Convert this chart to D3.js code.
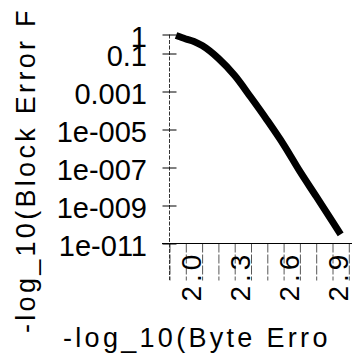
<!DOCTYPE html>
<html>
<head>
<meta charset="utf-8">
<script src="https://cdn.jsdelivr.net/npm/d3@7"></script>
<style>
  html, body { margin: 0; padding: 0; background: #fff; }
  svg { display: block; }
  text { font-family: "Liberation Sans", Arial, sans-serif; fill: #000; }
</style>
</head>
<body>
<div id="chart"></div>
<script>
// -log10(byte error) vs block error probability
const byteErr = [1.94, 2.00, 2.05, 2.10, 2.20, 2.30, 2.40, 2.50, 2.60, 2.70, 2.80, 2.90, 2.95];
const blockErr = [0.88, 0.58, 0.43, 0.26, 0.055, 0.0069, 4.8e-4, 3.0e-5, 1.6e-6, 6.2e-8, 3.0e-9, 1.4e-10, 3.0e-11];

const yTicks = [1, 0.1, 0.001, 1e-5, 1e-7, 1e-9, 1e-11];
const yTickLabels = ['1', '0.1', '0.001', '1e-005', '1e-007', '1e-009', '1e-011'];
const xTicks = [2.0, 2.3, 2.6, 2.9];
const xMinor = [1.9, 2.0, 2.1, 2.2, 2.3, 2.4, 2.5, 2.6, 2.7, 2.8, 2.9, 3.0, 3.1];

const W = 352, H = 355;

const svg = d3.select('#chart').append('svg')
  .attr('width', W)
  .attr('height', H);

const x = d3.scaleLinear().domain([1.9, 3.0]).range([169.5, 348.8]);
const y = d3.scaleLog().domain([1e-11, 1]).range([243.5, 34.5]);

// minor vertical marks under the x axis
svg.append('g')
  .attr('transform', `translate(0,${y(1e-11)})`)
  .call(d3.axisBottom(x).tickValues(xMinor).tickSize(37).tickFormat(''))
  .call(g => g.select('.domain').remove())
  .call(g => g.selectAll('.tick line').attr('stroke', '#444').attr('stroke-width', 0.9).attr('stroke-dasharray', '9,2'));

// x axis line
svg.append('line')
  .attr('x1', 162).attr('x2', W + 5)
  .attr('y1', y(1e-11)).attr('y2', y(1e-11))
  .attr('stroke', '#000').attr('stroke-width', 1.2);

// x tick labels, rotated
svg.append('g')
  .attr('transform', `translate(0,${y(1e-11)})`)
  .call(d3.axisBottom(x).tickValues(xTicks).tickSize(0).tickFormat(d3.format('.1f')))
  .call(g => g.select('.domain').remove())
  .call(g => g.selectAll('.tick text')
    .attr('transform', 'translate(14.5,58) rotate(-90)')
    .attr('x', 0).attr('y', 0).attr('dy', 0)
    .attr('text-anchor', 'start')
    .style('font-size', '28px')
    .style('letter-spacing', '4px'));

// y axis: dotted spine and crossing ticks
svg.append('line')
  .attr('x1', x(1.9)).attr('x2', x(1.9))
  .attr('y1', y(1)).attr('y2', 280)
  .attr('stroke', '#333').attr('stroke-width', 1).attr('stroke-dasharray', '4,1.5');

svg.append('g')
  .attr('transform', `translate(${x(1.9)},0)`)
  .call(d3.axisLeft(y).tickValues(yTicks).tickSize(7).tickPadding(15.5).tickFormat((d, i) => yTickLabels[i]))
  .call(g => g.select('.domain').remove())
  .call(g => g.selectAll('.tick line').attr('stroke', '#000'))
  .call(g => g.selectAll('.tick line').clone().attr('x2', 7))
  .call(g => g.selectAll('.tick text').attr('dy', '0.4em').style('font-size', '29px'));

// curve
const line = d3.line()
  .x((d, i) => x(byteErr[i]))
  .y(d => y(d))
  .curve(d3.curveMonotoneX);

svg.append('path')
  .datum(blockErr)
  .attr('fill', 'none')
  .attr('stroke', '#000')
  .attr('stroke-width', 7)
  .attr('d', line);

// axis titles (cut off in the source picture)
svg.append('text')
  .attr('x', 63).attr('y', 347)
  .style('font-size', '27px')
  .style('letter-spacing', '3.3px')
  .text('-log_10(Byte Erro');

svg.append('text')
  .attr('transform', 'translate(35,333) rotate(-90)')
  .style('font-size', '27px')
  .style('letter-spacing', '3.3px')
  .text('-log_10(Block Error F');
</script>
</body>
</html>
